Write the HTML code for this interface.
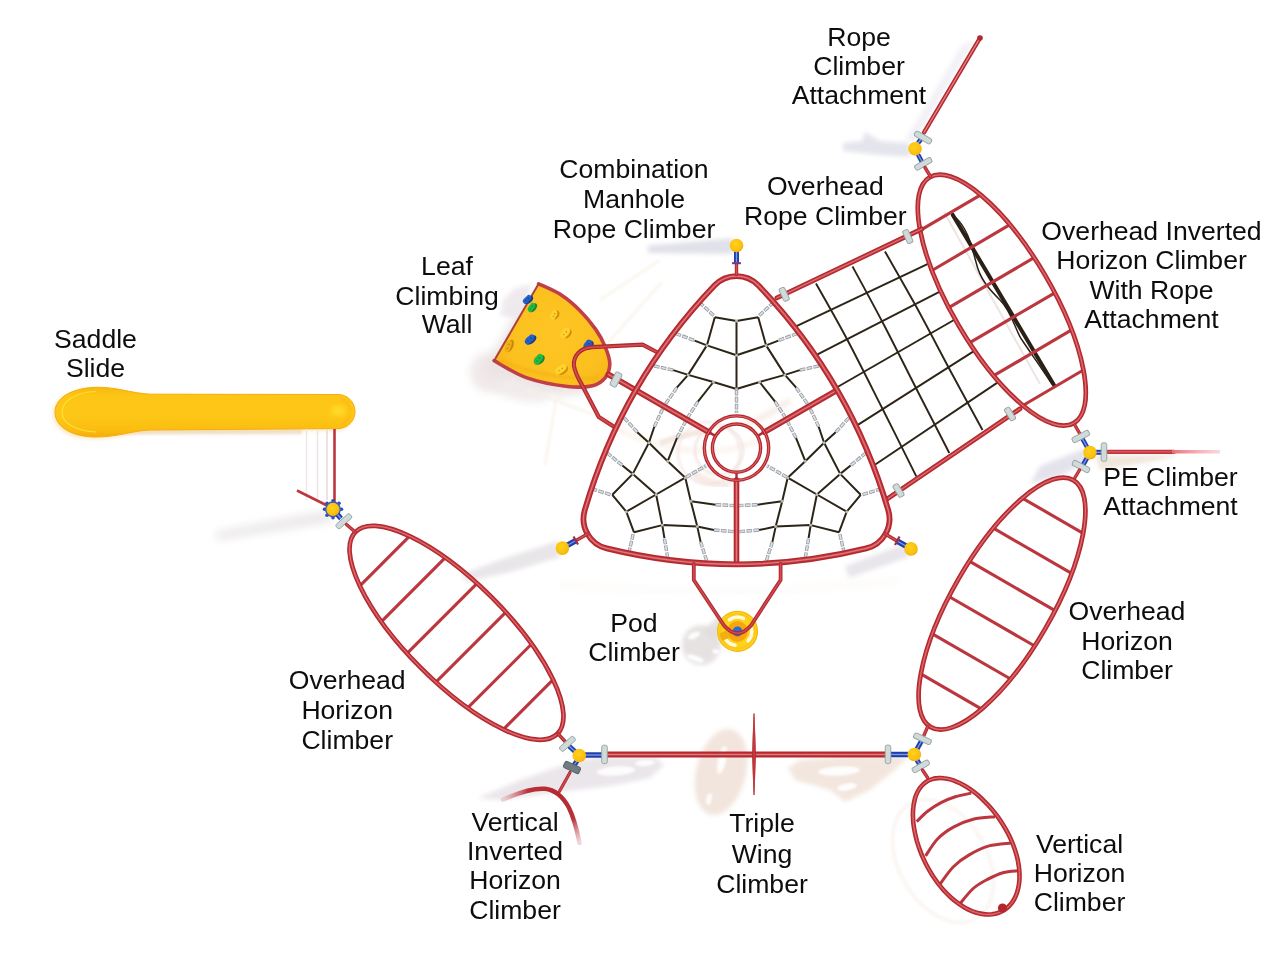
<!DOCTYPE html>
<html><head><meta charset="utf-8"><title>Playground</title>
<style>html,body{margin:0;padding:0;background:#fff}svg{display:block}text{font-family:"Liberation Sans",sans-serif;fill:#0d0d0d}</style>
</head><body>
<svg width="1279" height="960" viewBox="0 0 1279 960">
<defs>
<radialGradient id="gball" cx="0.42" cy="0.4" r="0.65"><stop offset="0" stop-color="#ffd21a"/><stop offset="0.7" stop-color="#fcc010"/><stop offset="1" stop-color="#f0a80c"/></radialGradient>
<linearGradient id="gslide" x1="0" y1="0" x2="0" y2="1"><stop offset="0" stop-color="#f8b70e"/><stop offset="0.16" stop-color="#fdc515"/><stop offset="0.55" stop-color="#fec818"/><stop offset="0.86" stop-color="#fbbd10"/><stop offset="1" stop-color="#f5ab0c"/></linearGradient>
<linearGradient id="gpe" gradientUnits="userSpaceOnUse" x1="1172" y1="0" x2="1222" y2="0"><stop offset="0" stop-color="#e87078"/><stop offset="1" stop-color="#f7c4c8" stop-opacity="0.6"/></linearGradient>
<radialGradient id="garc" gradientUnits="userSpaceOnUse" cx="556" cy="796" r="52"><stop offset="0" stop-color="#b3282e"/><stop offset="0.55" stop-color="#b8323a"/><stop offset="1" stop-color="#d98a90" stop-opacity="0.35"/></radialGradient>
<radialGradient id="gleaf" gradientUnits="userSpaceOnUse" cx="555" cy="335" r="70"><stop offset="0" stop-color="#fdc524"/><stop offset="0.7" stop-color="#fbc01e"/><stop offset="1" stop-color="#f6b318"/></radialGradient>
<filter id="b2" x="-20%" y="-20%" width="140%" height="140%"><feGaussianBlur stdDeviation="2"/></filter>
<filter id="b4" x="-30%" y="-30%" width="160%" height="160%"><feGaussianBlur stdDeviation="4"/></filter>
<filter id="b1" x="-20%" y="-20%" width="140%" height="140%"><feGaussianBlur stdDeviation="1"/></filter>
</defs>
<rect width="1279" height="960" fill="#ffffff"/>

<g id="shadows">
<path d="M330 510 L215 532 L218 540 L332 522Z" fill="#e3dfe2" opacity="0.7" filter="url(#b4)" />
<path d="M910 143 L880 141 L865 132 L862 141 L843 143 L843 151 L880 155 L910 157Z" fill="#e0e0ea" opacity="0.85" filter="url(#b2)" />
<path d="M905 140 L962 45 L975 40 L915 142Z" fill="#efeef4" opacity="0.8" filter="url(#b2)" />
<path d="M733 238 L648 245.5 L648 253 L733 254Z" fill="#dcdce6" opacity="0.85" filter="url(#b2)" />
<path d="M558 541 L500 560 L462 574 L466 582 L510 572 L560 557Z" fill="#e3e0e3" opacity="0.8" filter="url(#b2)" />
<path d="M906 543 L845 566 L849 578 L909 557Z" fill="#e3e0e6" opacity="0.8" filter="url(#b2)" />
<path d="M1086 448 L1040 466 L1030 484 L1060 476 L1088 462Z" fill="#e0dfea" opacity="0.85" filter="url(#b2)" />
<path d="M1095 455 L1180 455 L1150 462 L1100 470Z" fill="#ecdfd0" opacity="0.75" filter="url(#b2)" />
<path d="M538.6 283.8 C575 300 600 330 609 362 C610 380 595 388 567 386.5 C540 383 515 372 494 360.7Z" fill="#e9e1e1" opacity="0.85" filter="url(#b4)" transform="translate(-11 9)"/>
<path d="M532 284 L515 288 L503 300 L500 316 L518 318Z" fill="#ebe5ea" opacity="0.8" filter="url(#b2)" />
<ellipse cx="490" cy="372" rx="20" ry="20" fill="#ece4e4" opacity="0.8" filter="url(#b4)"/>
<ellipse cx="520" cy="392" rx="30" ry="8" fill="#eee7e7" opacity="0.8" filter="url(#b4)" transform="rotate(12 520 392)"/>
<ellipse cx="701.5" cy="645" rx="19.5" ry="20" fill="#e1dbdb" opacity="0.8" filter="url(#b2)"/>
<path d="M704 630 L718 616 L727 626 L714 641Z" fill="#e1dbdb" opacity="0.8" filter="url(#b2)" />

<ellipse cx="694" cy="635.5" rx="6.5" ry="3" fill="#fff" opacity="0.95" filter="url(#b1)" transform="rotate(-25 694 635.5)"/>
<ellipse cx="695.5" cy="658.5" rx="9" ry="2.8" fill="#fff" opacity="0.95" filter="url(#b1)" transform="rotate(20 695.5 658.5)"/>
<ellipse cx="716" cy="651.5" rx="3.5" ry="2.2" fill="#fff" opacity="0.95" filter="url(#b1)" transform="rotate(10 716 651.5)"/>
<ellipse cx="721" cy="772" rx="25" ry="44" fill="#efdfd5" opacity="0.8" filter="url(#b2)" transform="rotate(14 721 772)"/>
<ellipse cx="722" cy="760" rx="4" ry="14" fill="#fff" opacity="0.92" filter="url(#b1)" transform="rotate(12 722 760)"/>
<ellipse cx="709" cy="799" rx="2.5" ry="6" fill="#fff" opacity="0.92" filter="url(#b1)" transform="rotate(12 709 799)"/>
<path d="M578 760 L520 780 L478 798 L500 800 L560 792 L610 786 L650 778 L664 765 L655 757 L600 757Z" fill="#e6e0e6" opacity="0.8" filter="url(#b2)" />
<ellipse cx="616" cy="771" rx="19" ry="4.5" fill="#fff" opacity="0.92" filter="url(#b1)" transform="rotate(-4 616 771)"/>
<ellipse cx="645" cy="763" rx="10" ry="3" fill="#fff" opacity="0.92" filter="url(#b1)" transform="rotate(-4 645 763)"/>
<path d="M788 768 L800 760 L850 756 L908 757 L895 770 L870 790 L845 802 L830 790 L795 780Z" fill="#f0e1d6" opacity="0.8" filter="url(#b2)" />
<ellipse cx="839" cy="771" rx="21" ry="4.5" fill="#fff" opacity="0.92" filter="url(#b1)" transform="rotate(-3 839 771)"/>
<ellipse cx="847" cy="787" rx="10" ry="3.5" fill="#fff" opacity="0.92" filter="url(#b1)" transform="rotate(-10 847 787)"/>
<ellipse cx="943" cy="861" rx="44" ry="66" fill="none" stroke="#f7f0eb" stroke-width="3.5" opacity="0.65" filter="url(#b1)" transform="rotate(-30 943 861)"/>
<path d="M600 420 Q690 470 760 440" fill="none" stroke="#f8efe6" stroke-width="5" opacity="0.7" filter="url(#b2)"/>
<path d="M560 585 Q740 600 900 580" fill="none" stroke="#f9f4f0" stroke-width="5" opacity="0.5" filter="url(#b4)"/>
<circle cx="719" cy="450.5" r="24" fill="none" stroke="#f0dedc" stroke-width="2.6" opacity="0.7" filter="url(#b1)"/>
<circle cx="709" cy="453" r="31" fill="none" stroke="#f3e4e2" stroke-width="2.6" opacity="0.7" filter="url(#b1)"/>
<path d="M660 443 Q690 433 706 431" fill="none" stroke="#f3e3da" stroke-width="6" opacity="0.8" filter="url(#b1)"/>
<path d="M692 472 Q708 486 730 484" fill="none" stroke="#f3e3da" stroke-width="8" opacity="0.75" filter="url(#b2)"/>
<path d="M745 425 Q770 415 790 400" fill="none" stroke="#f5e8e0" stroke-width="6" opacity="0.75" filter="url(#b2)"/>
<path d="M555 402 L662 282" fill="none" stroke="#f8f0e4" stroke-width="3" opacity="0.6" filter="url(#b1)"/>
<path d="M527 390 L617 423" fill="none" stroke="#f8f0e4" stroke-width="3" opacity="0.6" filter="url(#b1)"/>
<path d="M556 400 L545 465" fill="none" stroke="#f8f0e4" stroke-width="3" opacity="0.6" filter="url(#b1)"/>
<path d="M600 300 L660 260" fill="none" stroke="#f8f0e4" stroke-width="3" opacity="0.6" filter="url(#b1)"/>
</g>
<g id="slide">
<rect x="120" y="428" width="182" height="6.5" fill="#efe2d3" opacity="0.9" filter="url(#b1)"/>
<path d="M150 394.2 C130 393 118 387.3 98 387.3 C72 387.3 55 398 55 412 C55 427 72 437 96 437 C118 437 130 431 150 430 L338 428.6 A17 17 0 0 0 338 394.5 Z" fill="#f8d48a" opacity="0.55" filter="url(#b2)" transform="translate(-2 2)"/>
<path d="M150 394.2 C130 393 118 387.3 98 387.3 C72 387.3 55 398 55 412 C55 427 72 437 96 437 C118 437 130 431 150 430 L338 428.6 A17 17 0 0 0 338 394.5 Z" fill="url(#gslide)" stroke="#f6ad10" stroke-width="1"/>
<path d="M96 391.5 C74 392 62 402 62 412.5 C62 424 78 431 96 432" fill="none" stroke="#ffe23a" stroke-width="1.2" opacity="0.9"/>
<path d="M341 399 A13 13 0 0 1 341 424" fill="none" stroke="#f8b310" stroke-width="2" opacity="0.6" filter="url(#b1)"/>
<ellipse cx="338" cy="411" rx="7" ry="5" fill="#ffe12e" opacity="0.75" filter="url(#b2)"/>
</g>
<path d="M306.5 429 V500" stroke="#f0e6e8" stroke-width="1.5"/>
<path d="M317.5 429 V500" stroke="#efe3e6" stroke-width="1.5"/>
<path d="M327 429 V500" stroke="#ecd6da" stroke-width="1.5"/>
<path d="M334.5 429 V503" fill="none" stroke="#bb363e" stroke-width="2.6" stroke-linecap="butt" />
<path d="M297 490.5 L327 505.5" fill="none" stroke="#bb363e" stroke-width="2.6" stroke-linecap="butt" />
<g id="leaf">
<path d="M538.6 283.8C542.4 285.7 554.4 290.5 561.3 295C568.2 299.5 574.4 305 580.1 310.7C585.8 316.4 591.5 323.4 595.7 329.4C599.9 335.4 602.8 340.9 605.1 346.6C607.5 352.3 609.8 358.6 609.8 363.8C609.8 369 608 374.2 605.1 377.9C602.2 381.5 598.9 384.3 592.6 385.7C586.4 387.1 578.6 387.8 567.6 386.5C556.6 385.2 539.1 382.2 526.9 377.9C514.6 373.6 499.6 363.6 494.1 360.7 L538.6 283.8Z" fill="url(#gleaf)" stroke="none"/>
<path d="M538.6 283.8C542.4 285.7 554.4 290.5 561.3 295C568.2 299.5 574.4 305 580.1 310.7C585.8 316.4 591.5 323.4 595.7 329.4C599.9 335.4 602.8 340.9 605.1 346.6C607.5 352.3 609.8 358.6 609.8 363.8C609.8 369 608 374.2 605.1 377.9C602.2 381.5 598.9 384.3 592.6 385.7C586.4 387.1 578.6 387.8 567.6 386.5C556.6 385.2 539.1 382.2 526.9 377.9C514.6 373.6 499.6 363.6 494.1 360.7" fill="none" stroke="#c13f47" stroke-width="3.6" stroke-linejoin="round" stroke-linecap="round"/>
<path d="M494.1 360.7 L538.6 283.8" fill="none" stroke="#b0403c" stroke-width="2" stroke-linecap="round"/>
<path d="M500 360 Q545 380 598 378" fill="none" stroke="#f3ad14" stroke-width="3" opacity="0.55" filter="url(#b1)"/>
<g transform="translate(526.9 299.4) rotate(-40)">
<ellipse cx="1" cy="1.5" rx="5.4" ry="3.1" fill="#15408f"/>
<ellipse cx="0" cy="0" rx="4.8" ry="2.6" fill="#2461c8"/>
<circle cx="2.9" cy="-0.6" r="2.2" fill="#2461c8"/>
<circle cx="-2.6" cy="0.8" r="2.1" fill="#2461c8"/>
<circle cx="1.7" cy="0" r="0.8" fill="#15408f"/>
<circle cx="-1.7" cy="0.3" r="0.7" fill="#15408f"/>
</g>
<g transform="translate(531.3 307.5) rotate(-50)">
<ellipse cx="1" cy="1.5" rx="5.2" ry="3.1" fill="#168a30"/>
<ellipse cx="0" cy="0" rx="4.6" ry="2.6" fill="#27b846"/>
<circle cx="2.8" cy="-0.6" r="2.2" fill="#27b846"/>
<circle cx="-2.5" cy="0.8" r="2.1" fill="#27b846"/>
<circle cx="1.6" cy="0" r="0.8" fill="#168a30"/>
<circle cx="-1.6" cy="0.3" r="0.7" fill="#168a30"/>
</g>
<g transform="translate(553.8 315) rotate(-55)">
<ellipse cx="1" cy="1.5" rx="5" ry="3.3" fill="#d48f0a"/>
<ellipse cx="0" cy="0" rx="4.4" ry="2.8" fill="#ffd32e"/>
<circle cx="2.6" cy="-0.6" r="2.4" fill="#ffd32e"/>
<circle cx="-2.4" cy="0.8" r="2.2" fill="#ffd32e"/>
<circle cx="1.5" cy="0" r="0.8" fill="#d48f0a"/>
<circle cx="-1.5" cy="0.3" r="0.7" fill="#d48f0a"/>
</g>
<g transform="translate(565 333.1) rotate(-40)">
<ellipse cx="1" cy="1.5" rx="5.6" ry="4.1" fill="#d48f0a"/>
<ellipse cx="0" cy="0" rx="5" ry="3.6" fill="#ffd32e"/>
<circle cx="3" cy="-0.6" r="3.1" fill="#ffd32e"/>
<circle cx="-2.8" cy="0.8" r="2.9" fill="#ffd32e"/>
<circle cx="1.8" cy="0" r="0.8" fill="#d48f0a"/>
<circle cx="-1.8" cy="0.3" r="0.7" fill="#d48f0a"/>
</g>
<g transform="translate(529.4 339.4) rotate(-38)">
<ellipse cx="1" cy="1.5" rx="6.2" ry="3.5" fill="#15408f"/>
<ellipse cx="0" cy="0" rx="5.6" ry="3" fill="#2461c8"/>
<circle cx="3.4" cy="-0.6" r="2.5" fill="#2461c8"/>
<circle cx="-3.1" cy="0.8" r="2.4" fill="#2461c8"/>
<circle cx="2" cy="0" r="0.8" fill="#15408f"/>
<circle cx="-2" cy="0.3" r="0.7" fill="#15408f"/>
</g>
<g transform="translate(508.1 346.3) rotate(-65)">
<ellipse cx="1" cy="1.5" rx="6.6" ry="3.3" fill="#c98a0a"/>
<ellipse cx="0" cy="0" rx="6" ry="2.8" fill="#eeb016"/>
<circle cx="3.6" cy="-0.6" r="2.4" fill="#eeb016"/>
<circle cx="-3.3" cy="0.8" r="2.2" fill="#eeb016"/>
<circle cx="2.1" cy="0" r="0.8" fill="#c98a0a"/>
<circle cx="-2.1" cy="0.3" r="0.7" fill="#c98a0a"/>
</g>
<g transform="translate(587.5 345) rotate(-50)">
<ellipse cx="1" cy="1.5" rx="5.2" ry="3.9" fill="#15408f"/>
<ellipse cx="0" cy="0" rx="4.6" ry="3.4" fill="#2461c8"/>
<circle cx="2.8" cy="-0.6" r="2.9" fill="#2461c8"/>
<circle cx="-2.5" cy="0.8" r="2.7" fill="#2461c8"/>
<circle cx="1.6" cy="0" r="0.8" fill="#15408f"/>
<circle cx="-1.6" cy="0.3" r="0.7" fill="#15408f"/>
</g>
<g transform="translate(538.1 359.4) rotate(-45)">
<ellipse cx="1" cy="1.5" rx="5.8" ry="3.9" fill="#168a30"/>
<ellipse cx="0" cy="0" rx="5.2" ry="3.4" fill="#27b846"/>
<circle cx="3.1" cy="-0.6" r="2.9" fill="#27b846"/>
<circle cx="-2.9" cy="0.8" r="2.7" fill="#27b846"/>
<circle cx="1.8" cy="0" r="0.8" fill="#168a30"/>
<circle cx="-1.8" cy="0.3" r="0.7" fill="#168a30"/>
</g>
<g transform="translate(560.6 369.4) rotate(-30)">
<ellipse cx="1" cy="1.5" rx="6.4" ry="4.1" fill="#d48f0a"/>
<ellipse cx="0" cy="0" rx="5.8" ry="3.6" fill="#ffd32e"/>
<circle cx="3.5" cy="-0.6" r="3.1" fill="#ffd32e"/>
<circle cx="-3.2" cy="0.8" r="2.9" fill="#ffd32e"/>
<circle cx="2" cy="0" r="0.8" fill="#d48f0a"/>
<circle cx="-2" cy="0.3" r="0.7" fill="#d48f0a"/>
</g>
</g>
<g id="nets">
<path d="M793.9 327.4 L930.6 262.6" stroke="#2c2416" stroke-width="1.9" fill="none"/>
<path d="M816.1 355.2 L940.3 291.4" stroke="#2c2416" stroke-width="1.9" fill="none"/>
<path d="M836.2 387.8 L955.7 319" stroke="#2c2416" stroke-width="1.9" fill="none"/>
<path d="M856.3 425.9 L974.7 350.6" stroke="#2c2416" stroke-width="1.9" fill="none"/>
<path d="M873.8 465.5 L998.9 381.6" stroke="#2c2416" stroke-width="1.9" fill="none"/>
<path d="M816 283.5C821.1 292.7 835.7 317.9 846.8 338.8C857.9 359.7 870.9 385.9 882.5 408.8C894.1 431.7 910.7 465.1 916.3 476.3" stroke="#2c2416" stroke-width="1.9" fill="none"/>
<path d="M852.5 266.5C857.8 276.2 873.1 304.1 884 325C894.9 345.9 907.1 370.7 918 392C928.9 413.3 944.1 442.8 949.3 453" stroke="#2c2416" stroke-width="1.9" fill="none"/>
<path d="M885 251.5C890.3 260.9 906 287.9 917 308C928 328.1 940.1 351.7 951 372C961.9 392.3 977.2 420.3 982.5 430" stroke="#2c2416" stroke-width="1.9" fill="none"/>
<path d="M944 212 L1040 384" stroke="#ece6e2" stroke-width="2" fill="none"/>
<path d="M952.8 214.9 L1054.1 385.2" stroke="#2a2015" stroke-width="4" fill="none" stroke-linecap="round"/>
<path d="M955 217 C968 228 972 248 976 262 C980 280 990 290 1000 300 C1012 312 1016 332 1022 340 C1030 352 1040 366 1052 384" stroke="#2a2015" stroke-width="1.5" fill="none"/>
<path d="M736.5 320.9 L736.5 355.2 L736.5 389" stroke="#2c2416" stroke-width="2" fill="none" stroke-linejoin="round"/>
<path d="M714.8 317.2 L706.9 345.4 L688.1 374.9 L676.8 387.6" stroke="#2c2416" stroke-width="2" fill="none" stroke-linejoin="round"/>
<path d="M758.2 317.2 L766.1 345.4 L784.9 374.9 L796.2 387.6" stroke="#2c2416" stroke-width="2" fill="none" stroke-linejoin="round"/>
<path d="M713.4 382 L697.9 401.7" stroke="#2c2416" stroke-width="2" fill="none" stroke-linejoin="round"/>
<path d="M759.6 382 L775.1 401.7" stroke="#2c2416" stroke-width="2" fill="none" stroke-linejoin="round"/>
<path d="M714.8 317.2 L736.5 320.9 L758.2 317.2" stroke="#2c2416" stroke-width="2" fill="none" stroke-linejoin="round"/>
<path d="M694.6 340.6 L706.9 345.4 L736.5 355.2 L766.1 345.4 L778.4 340.6" stroke="#2c2416" stroke-width="2" fill="none" stroke-linejoin="round"/>
<path d="M673.2 370.1 L688.1 374.9 L713.4 382 L736.5 389 L759.6 382 L784.9 374.9 L799.8 370.1" stroke="#2c2416" stroke-width="2" fill="none" stroke-linejoin="round"/>
<path d="M736.5 389.8 L736.5 412.9" stroke="#979da3" stroke-width="3.4" fill="none" stroke-dasharray="5.6 1.4"/>
<path d="M736.5 389.8 L736.5 412.9" stroke="#dde1e4" stroke-width="1.7" fill="none" stroke-dasharray="4.4 2.6" stroke-dashoffset="-0.6"/>
<path d="M676.8 387.6 L663.6 406.7" stroke="#979da3" stroke-width="3.4" fill="none" stroke-dasharray="5.6 1.4"/>
<path d="M676.8 387.6 L663.6 406.7" stroke="#dde1e4" stroke-width="1.7" fill="none" stroke-dasharray="4.4 2.6" stroke-dashoffset="-0.6"/>
<path d="M796.2 387.6 L809.4 406.7" stroke="#979da3" stroke-width="3.4" fill="none" stroke-dasharray="5.6 1.4"/>
<path d="M796.2 387.6 L809.4 406.7" stroke="#dde1e4" stroke-width="1.7" fill="none" stroke-dasharray="4.4 2.6" stroke-dashoffset="-0.6"/>
<path d="M697.9 401.7 L686.7 419.1" stroke="#979da3" stroke-width="3.4" fill="none" stroke-dasharray="5.6 1.4"/>
<path d="M697.9 401.7 L686.7 419.1" stroke="#dde1e4" stroke-width="1.7" fill="none" stroke-dasharray="4.4 2.6" stroke-dashoffset="-0.6"/>
<path d="M775.1 401.7 L786.3 419.1" stroke="#979da3" stroke-width="3.4" fill="none" stroke-dasharray="5.6 1.4"/>
<path d="M775.1 401.7 L786.3 419.1" stroke="#dde1e4" stroke-width="1.7" fill="none" stroke-dasharray="4.4 2.6" stroke-dashoffset="-0.6"/>
<path d="M699.3 302.3 L714.3 316.1" stroke="#979da3" stroke-width="3.4" fill="none" stroke-dasharray="5.6 1.4"/>
<path d="M699.3 302.3 L714.3 316.1" stroke="#dde1e4" stroke-width="1.7" fill="none" stroke-dasharray="4.4 2.6" stroke-dashoffset="-0.6"/>
<path d="M773.7 302.3 L758.7 316.1" stroke="#979da3" stroke-width="3.4" fill="none" stroke-dasharray="5.6 1.4"/>
<path d="M773.7 302.3 L758.7 316.1" stroke="#dde1e4" stroke-width="1.7" fill="none" stroke-dasharray="4.4 2.6" stroke-dashoffset="-0.6"/>
<path d="M675.7 333.5 L694.6 340.6" stroke="#979da3" stroke-width="3.4" fill="none" stroke-dasharray="5.6 1.4"/>
<path d="M675.7 333.5 L694.6 340.6" stroke="#dde1e4" stroke-width="1.7" fill="none" stroke-dasharray="4.4 2.6" stroke-dashoffset="-0.6"/>
<path d="M797.3 333.5 L778.4 340.6" stroke="#979da3" stroke-width="3.4" fill="none" stroke-dasharray="5.6 1.4"/>
<path d="M797.3 333.5 L778.4 340.6" stroke="#dde1e4" stroke-width="1.7" fill="none" stroke-dasharray="4.4 2.6" stroke-dashoffset="-0.6"/>
<path d="M654 365.9 L673.2 370.1" stroke="#979da3" stroke-width="3.4" fill="none" stroke-dasharray="5.6 1.4"/>
<path d="M654 365.9 L673.2 370.1" stroke="#dde1e4" stroke-width="1.7" fill="none" stroke-dasharray="4.4 2.6" stroke-dashoffset="-0.6"/>
<path d="M819 365.9 L799.8 370.1" stroke="#979da3" stroke-width="3.4" fill="none" stroke-dasharray="5.6 1.4"/>
<path d="M819 365.9 L799.8 370.1" stroke="#dde1e4" stroke-width="1.7" fill="none" stroke-dasharray="4.4 2.6" stroke-dashoffset="-0.6"/>
<circle cx="736.5" cy="320.9" r="1.5" fill="#b9b9b4"/>
<circle cx="736.5" cy="355.2" r="1.5" fill="#b9b9b4"/>
<circle cx="736.5" cy="389" r="1.5" fill="#b9b9b4"/>
<circle cx="706.9" cy="345.4" r="1.5" fill="#b9b9b4"/>
<circle cx="766.1" cy="345.4" r="1.5" fill="#b9b9b4"/>
<circle cx="688.1" cy="374.9" r="1.5" fill="#b9b9b4"/>
<circle cx="784.9" cy="374.9" r="1.5" fill="#b9b9b4"/>
<circle cx="713.4" cy="382" r="1.5" fill="#b9b9b4"/>
<circle cx="759.6" cy="382" r="1.5" fill="#b9b9b4"/>
<path d="M846.7 511.7 L816.9 494.5 L787.7 477.7" stroke="#2c2416" stroke-width="2" fill="none" stroke-linejoin="round"/>
<path d="M860.7 494.8 L840.2 473.9 L824.1 442.8 L818.7 426.7" stroke="#2c2416" stroke-width="2" fill="none" stroke-linejoin="round"/>
<path d="M839 532.3 L810.7 525.1 L775.7 526.6 L759.1 530" stroke="#2c2416" stroke-width="2" fill="none" stroke-linejoin="round"/>
<path d="M805.3 461.2 L796 437.9" stroke="#2c2416" stroke-width="2" fill="none" stroke-linejoin="round"/>
<path d="M782.2 501.2 L757.4 504.7" stroke="#2c2416" stroke-width="2" fill="none" stroke-linejoin="round"/>
<path d="M860.7 494.8 L846.7 511.7 L839 532.3" stroke="#2c2416" stroke-width="2" fill="none" stroke-linejoin="round"/>
<path d="M850.6 465.5 L840.2 473.9 L816.9 494.5 L810.7 525.1 L808.6 538.2" stroke="#2c2416" stroke-width="2" fill="none" stroke-linejoin="round"/>
<path d="M835.7 432.2 L824.1 442.8 L805.3 461.2 L787.7 477.7 L782.2 501.2 L775.7 526.6 L772.4 541.9" stroke="#2c2416" stroke-width="2" fill="none" stroke-linejoin="round"/>
<path d="M787 477.2 L767 465.7" stroke="#979da3" stroke-width="3.4" fill="none" stroke-dasharray="5.6 1.4"/>
<path d="M787 477.2 L767 465.7" stroke="#dde1e4" stroke-width="1.7" fill="none" stroke-dasharray="4.4 2.6" stroke-dashoffset="-0.6"/>
<path d="M818.7 426.7 L808.8 405.7" stroke="#979da3" stroke-width="3.4" fill="none" stroke-dasharray="5.6 1.4"/>
<path d="M818.7 426.7 L808.8 405.7" stroke="#dde1e4" stroke-width="1.7" fill="none" stroke-dasharray="4.4 2.6" stroke-dashoffset="-0.6"/>
<path d="M759.1 530 L735.9 531.9" stroke="#979da3" stroke-width="3.4" fill="none" stroke-dasharray="5.6 1.4"/>
<path d="M759.1 530 L735.9 531.9" stroke="#dde1e4" stroke-width="1.7" fill="none" stroke-dasharray="4.4 2.6" stroke-dashoffset="-0.6"/>
<path d="M796 437.9 L786.5 419.5" stroke="#979da3" stroke-width="3.4" fill="none" stroke-dasharray="5.6 1.4"/>
<path d="M796 437.9 L786.5 419.5" stroke="#dde1e4" stroke-width="1.7" fill="none" stroke-dasharray="4.4 2.6" stroke-dashoffset="-0.6"/>
<path d="M757.4 504.7 L736.7 505.7" stroke="#979da3" stroke-width="3.4" fill="none" stroke-dasharray="5.6 1.4"/>
<path d="M757.4 504.7 L736.7 505.7" stroke="#dde1e4" stroke-width="1.7" fill="none" stroke-dasharray="4.4 2.6" stroke-dashoffset="-0.6"/>
<path d="M881.3 488.8 L861.9 494.8" stroke="#979da3" stroke-width="3.4" fill="none" stroke-dasharray="5.6 1.4"/>
<path d="M881.3 488.8 L861.9 494.8" stroke="#dde1e4" stroke-width="1.7" fill="none" stroke-dasharray="4.4 2.6" stroke-dashoffset="-0.6"/>
<path d="M844.2 553.2 L839.7 533.4" stroke="#979da3" stroke-width="3.4" fill="none" stroke-dasharray="5.6 1.4"/>
<path d="M844.2 553.2 L839.7 533.4" stroke="#dde1e4" stroke-width="1.7" fill="none" stroke-dasharray="4.4 2.6" stroke-dashoffset="-0.6"/>
<path d="M866.1 452.7 L850.6 465.5" stroke="#979da3" stroke-width="3.4" fill="none" stroke-dasharray="5.6 1.4"/>
<path d="M866.1 452.7 L850.6 465.5" stroke="#dde1e4" stroke-width="1.7" fill="none" stroke-dasharray="4.4 2.6" stroke-dashoffset="-0.6"/>
<path d="M805.3 558 L808.6 538.2" stroke="#979da3" stroke-width="3.4" fill="none" stroke-dasharray="5.6 1.4"/>
<path d="M805.3 558 L808.6 538.2" stroke="#dde1e4" stroke-width="1.7" fill="none" stroke-dasharray="4.4 2.6" stroke-dashoffset="-0.6"/>
<path d="M848.9 417.8 L835.7 432.2" stroke="#979da3" stroke-width="3.4" fill="none" stroke-dasharray="5.6 1.4"/>
<path d="M848.9 417.8 L835.7 432.2" stroke="#dde1e4" stroke-width="1.7" fill="none" stroke-dasharray="4.4 2.6" stroke-dashoffset="-0.6"/>
<path d="M766.4 560.6 L772.4 541.9" stroke="#979da3" stroke-width="3.4" fill="none" stroke-dasharray="5.6 1.4"/>
<path d="M766.4 560.6 L772.4 541.9" stroke="#dde1e4" stroke-width="1.7" fill="none" stroke-dasharray="4.4 2.6" stroke-dashoffset="-0.6"/>
<circle cx="846.7" cy="511.7" r="1.5" fill="#b9b9b4"/>
<circle cx="816.9" cy="494.5" r="1.5" fill="#b9b9b4"/>
<circle cx="787.7" cy="477.7" r="1.5" fill="#b9b9b4"/>
<circle cx="840.2" cy="473.9" r="1.5" fill="#b9b9b4"/>
<circle cx="810.7" cy="525.1" r="1.5" fill="#b9b9b4"/>
<circle cx="824.1" cy="442.8" r="1.5" fill="#b9b9b4"/>
<circle cx="775.7" cy="526.6" r="1.5" fill="#b9b9b4"/>
<circle cx="805.3" cy="461.2" r="1.5" fill="#b9b9b4"/>
<circle cx="782.2" cy="501.2" r="1.5" fill="#b9b9b4"/>
<path d="M626.3 511.7 L656.1 494.5 L685.3 477.7" stroke="#2c2416" stroke-width="2" fill="none" stroke-linejoin="round"/>
<path d="M634 532.3 L662.3 525.1 L697.3 526.6 L713.9 530" stroke="#2c2416" stroke-width="2" fill="none" stroke-linejoin="round"/>
<path d="M612.3 494.8 L632.8 473.9 L648.9 442.8 L654.3 426.7" stroke="#2c2416" stroke-width="2" fill="none" stroke-linejoin="round"/>
<path d="M690.8 501.2 L715.6 504.7" stroke="#2c2416" stroke-width="2" fill="none" stroke-linejoin="round"/>
<path d="M667.7 461.2 L677 437.9" stroke="#2c2416" stroke-width="2" fill="none" stroke-linejoin="round"/>
<path d="M634 532.3 L626.3 511.7 L612.3 494.8" stroke="#2c2416" stroke-width="2" fill="none" stroke-linejoin="round"/>
<path d="M664.4 538.2 L662.3 525.1 L656.1 494.5 L632.8 473.9 L622.4 465.5" stroke="#2c2416" stroke-width="2" fill="none" stroke-linejoin="round"/>
<path d="M700.6 541.9 L697.3 526.6 L690.8 501.2 L685.3 477.7 L667.7 461.2 L648.9 442.8 L637.3 432.2" stroke="#2c2416" stroke-width="2" fill="none" stroke-linejoin="round"/>
<path d="M686 477.2 L706 465.7" stroke="#979da3" stroke-width="3.4" fill="none" stroke-dasharray="5.6 1.4"/>
<path d="M686 477.2 L706 465.7" stroke="#dde1e4" stroke-width="1.7" fill="none" stroke-dasharray="4.4 2.6" stroke-dashoffset="-0.6"/>
<path d="M713.9 530 L737.1 531.9" stroke="#979da3" stroke-width="3.4" fill="none" stroke-dasharray="5.6 1.4"/>
<path d="M713.9 530 L737.1 531.9" stroke="#dde1e4" stroke-width="1.7" fill="none" stroke-dasharray="4.4 2.6" stroke-dashoffset="-0.6"/>
<path d="M654.3 426.7 L664.2 405.7" stroke="#979da3" stroke-width="3.4" fill="none" stroke-dasharray="5.6 1.4"/>
<path d="M654.3 426.7 L664.2 405.7" stroke="#dde1e4" stroke-width="1.7" fill="none" stroke-dasharray="4.4 2.6" stroke-dashoffset="-0.6"/>
<path d="M715.6 504.7 L736.3 505.7" stroke="#979da3" stroke-width="3.4" fill="none" stroke-dasharray="5.6 1.4"/>
<path d="M715.6 504.7 L736.3 505.7" stroke="#dde1e4" stroke-width="1.7" fill="none" stroke-dasharray="4.4 2.6" stroke-dashoffset="-0.6"/>
<path d="M677 437.9 L686.5 419.5" stroke="#979da3" stroke-width="3.4" fill="none" stroke-dasharray="5.6 1.4"/>
<path d="M677 437.9 L686.5 419.5" stroke="#dde1e4" stroke-width="1.7" fill="none" stroke-dasharray="4.4 2.6" stroke-dashoffset="-0.6"/>
<path d="M628.8 553.2 L633.3 533.4" stroke="#979da3" stroke-width="3.4" fill="none" stroke-dasharray="5.6 1.4"/>
<path d="M628.8 553.2 L633.3 533.4" stroke="#dde1e4" stroke-width="1.7" fill="none" stroke-dasharray="4.4 2.6" stroke-dashoffset="-0.6"/>
<path d="M591.7 488.8 L611.1 494.8" stroke="#979da3" stroke-width="3.4" fill="none" stroke-dasharray="5.6 1.4"/>
<path d="M591.7 488.8 L611.1 494.8" stroke="#dde1e4" stroke-width="1.7" fill="none" stroke-dasharray="4.4 2.6" stroke-dashoffset="-0.6"/>
<path d="M667.7 558 L664.4 538.2" stroke="#979da3" stroke-width="3.4" fill="none" stroke-dasharray="5.6 1.4"/>
<path d="M667.7 558 L664.4 538.2" stroke="#dde1e4" stroke-width="1.7" fill="none" stroke-dasharray="4.4 2.6" stroke-dashoffset="-0.6"/>
<path d="M606.9 452.7 L622.4 465.5" stroke="#979da3" stroke-width="3.4" fill="none" stroke-dasharray="5.6 1.4"/>
<path d="M606.9 452.7 L622.4 465.5" stroke="#dde1e4" stroke-width="1.7" fill="none" stroke-dasharray="4.4 2.6" stroke-dashoffset="-0.6"/>
<path d="M706.6 560.6 L700.6 541.9" stroke="#979da3" stroke-width="3.4" fill="none" stroke-dasharray="5.6 1.4"/>
<path d="M706.6 560.6 L700.6 541.9" stroke="#dde1e4" stroke-width="1.7" fill="none" stroke-dasharray="4.4 2.6" stroke-dashoffset="-0.6"/>
<path d="M624.1 417.8 L637.3 432.2" stroke="#979da3" stroke-width="3.4" fill="none" stroke-dasharray="5.6 1.4"/>
<path d="M624.1 417.8 L637.3 432.2" stroke="#dde1e4" stroke-width="1.7" fill="none" stroke-dasharray="4.4 2.6" stroke-dashoffset="-0.6"/>
<circle cx="626.3" cy="511.7" r="1.5" fill="#b9b9b4"/>
<circle cx="656.1" cy="494.5" r="1.5" fill="#b9b9b4"/>
<circle cx="685.3" cy="477.7" r="1.5" fill="#b9b9b4"/>
<circle cx="662.3" cy="525.1" r="1.5" fill="#b9b9b4"/>
<circle cx="632.8" cy="473.9" r="1.5" fill="#b9b9b4"/>
<circle cx="697.3" cy="526.6" r="1.5" fill="#b9b9b4"/>
<circle cx="648.9" cy="442.8" r="1.5" fill="#b9b9b4"/>
<circle cx="690.8" cy="501.2" r="1.5" fill="#b9b9b4"/>
<circle cx="667.7" cy="461.2" r="1.5" fill="#b9b9b4"/>
</g>
<g id="frames">
<path d="M656.7 352 L642.6 344.7 L592 347.2 C580 348 573 356 574 366 C575 372 578 378 581.6 384.2 L598.8 417 L616 428" fill="none" stroke="#b3282e" stroke-width="4.2" stroke-linecap="round" stroke-linejoin="round" />
<path d="M656.7 352 L642.6 344.7 L592 347.2 C580 348 573 356 574 366 C575 372 578 378 581.6 384.2 L598.8 417 L616 428" fill="none" stroke="#c53c42" stroke-width="2.1" stroke-linecap="round" stroke-linejoin="round" />
<path d="M656.7 352 L642.6 344.7 L592 347.2 C580 348 573 356 574 366 C575 372 578 378 581.6 384.2 L598.8 417 L616 428" fill="none" stroke="#cf565b" stroke-width="0.9" stroke-linecap="round" stroke-linejoin="round" />
<path d="M409.6 536.2 L359.9 585.9" fill="none" stroke="#bb363e" stroke-width="3.1" stroke-linecap="butt" />
<path d="M445.3 557.7 L381.4 621.6" fill="none" stroke="#bb363e" stroke-width="3.1" stroke-linecap="butt" />
<path d="M477.1 583.4 L407.1 653.4" fill="none" stroke="#bb363e" stroke-width="3.1" stroke-linecap="butt" />
<path d="M505.9 612.2 L435.9 682.2" fill="none" stroke="#bb363e" stroke-width="3.1" stroke-linecap="butt" />
<path d="M531.6 644 L467.7 707.9" fill="none" stroke="#bb363e" stroke-width="3.1" stroke-linecap="butt" />
<path d="M553.1 679.7 L503.4 729.4" fill="none" stroke="#bb363e" stroke-width="3.1" stroke-linecap="butt" />
<ellipse cx="456.5" cy="632.8" rx="142.8" ry="50" fill="none" stroke="#b3282e" stroke-width="4.7" transform="rotate(45 456.5 632.8)"/>
<ellipse cx="456.5" cy="632.8" rx="142.8" ry="50" fill="none" stroke="#c53c42" stroke-width="2.3" transform="rotate(45 456.5 632.8)"/>
<ellipse cx="456.5" cy="632.8" rx="142.8" ry="50" fill="none" stroke="#dd7a7e" stroke-width="0.9" transform="rotate(45 456.5 632.8)"/>
<path d="M980.7 194.9 L920.2 230.4" fill="none" stroke="#bb363e" stroke-width="3.1" stroke-linecap="butt" />
<path d="M1009.9 224.7 L932 270.5" fill="none" stroke="#bb363e" stroke-width="3.1" stroke-linecap="butt" />
<path d="M1034.2 257.6 L948.8 307.6" fill="none" stroke="#bb363e" stroke-width="3.1" stroke-linecap="butt" />
<path d="M1054.8 292.8 L969.4 342.8" fill="none" stroke="#bb363e" stroke-width="3.1" stroke-linecap="butt" />
<path d="M1071.6 329.9 L993.7 375.7" fill="none" stroke="#bb363e" stroke-width="3.1" stroke-linecap="butt" />
<path d="M1083.4 370 L1022.9 405.5" fill="none" stroke="#bb363e" stroke-width="3.1" stroke-linecap="butt" />
<ellipse cx="1001.8" cy="300.2" rx="142.5" ry="50" fill="none" stroke="#b3282e" stroke-width="4.7" transform="rotate(59.6 1001.8 300.2)"/>
<ellipse cx="1001.8" cy="300.2" rx="142.5" ry="50" fill="none" stroke="#c53c42" stroke-width="2.3" transform="rotate(59.6 1001.8 300.2)"/>
<ellipse cx="1001.8" cy="300.2" rx="142.5" ry="50" fill="none" stroke="#dd7a7e" stroke-width="0.9" transform="rotate(59.6 1001.8 300.2)"/>
<path d="M1083.2 533.3 L1022.3 498.1" fill="none" stroke="#bb363e" stroke-width="3.1" stroke-linecap="butt" />
<path d="M1071.6 573.4 L993.4 528.2" fill="none" stroke="#bb363e" stroke-width="3.1" stroke-linecap="butt" />
<path d="M1055.1 610.7 L969.3 561.2" fill="none" stroke="#bb363e" stroke-width="3.1" stroke-linecap="butt" />
<path d="M1034.7 646 L948.9 596.5" fill="none" stroke="#bb363e" stroke-width="3.1" stroke-linecap="butt" />
<path d="M1010.6 679 L932.4 633.8" fill="none" stroke="#bb363e" stroke-width="3.1" stroke-linecap="butt" />
<path d="M981.7 709.1 L920.8 673.9" fill="none" stroke="#bb363e" stroke-width="3.1" stroke-linecap="butt" />
<ellipse cx="1002" cy="603.6" rx="142.6" ry="50" fill="none" stroke="#b3282e" stroke-width="4.7" transform="rotate(120 1002 603.6)"/>
<ellipse cx="1002" cy="603.6" rx="142.6" ry="50" fill="none" stroke="#c53c42" stroke-width="2.3" transform="rotate(120 1002 603.6)"/>
<ellipse cx="1002" cy="603.6" rx="142.6" ry="50" fill="none" stroke="#dd7a7e" stroke-width="0.9" transform="rotate(120 1002 603.6)"/>
<path d="M776.9 297.9 L921.8 229" fill="none" stroke="#b3282e" stroke-width="4.8" stroke-linecap="round" stroke-linejoin="round" />
<path d="M776.9 297.9 L921.8 229" fill="none" stroke="#c53c42" stroke-width="2.4" stroke-linecap="round" stroke-linejoin="round" />
<path d="M776.9 297.9 L921.8 229" fill="none" stroke="#dd7a7e" stroke-width="1" stroke-linecap="round" stroke-linejoin="round" />
<path d="M887.5 498.8 L1020 408.8" fill="none" stroke="#b3282e" stroke-width="4.8" stroke-linecap="round" stroke-linejoin="round" />
<path d="M887.5 498.8 L1020 408.8" fill="none" stroke="#c53c42" stroke-width="2.4" stroke-linecap="round" stroke-linejoin="round" />
<path d="M887.5 498.8 L1020 408.8" fill="none" stroke="#dd7a7e" stroke-width="1" stroke-linecap="round" stroke-linejoin="round" />
<rect x="777.2" y="291.3" width="14" height="6" rx="2" fill="#cfdad9" stroke="#93a2a3" stroke-width="0.9" transform="rotate(65 784.2 294.3)"/>
<rect x="900.8" y="233.6" width="14" height="6" rx="2" fill="#cfdad9" stroke="#93a2a3" stroke-width="0.9" transform="rotate(65 907.8 236.6)"/>
<rect x="891.5" y="487.5" width="14" height="6" rx="2" fill="#cfdad9" stroke="#93a2a3" stroke-width="0.9" transform="rotate(58 898.5 490.5)"/>
<rect x="1003" y="411" width="14" height="6" rx="2" fill="#cfdad9" stroke="#93a2a3" stroke-width="0.9" transform="rotate(58 1010 414)"/>
<path d="M736.5 480 L736.5 563" fill="none" stroke="#b3282e" stroke-width="5.6" stroke-linecap="round" stroke-linejoin="round" />
<path d="M736.5 480 L736.5 563" fill="none" stroke="#c53c42" stroke-width="2.8" stroke-linecap="round" stroke-linejoin="round" />
<path d="M736.5 480 L736.5 563" fill="none" stroke="#dd7a7e" stroke-width="1.2" stroke-linecap="round" stroke-linejoin="round" />
<path d="M708.5 432 L608.5 374.5" fill="none" stroke="#b3282e" stroke-width="5.8" stroke-linecap="round" stroke-linejoin="round" />
<path d="M708.5 432 L608.5 374.5" fill="none" stroke="#c53c42" stroke-width="2.9" stroke-linecap="round" stroke-linejoin="round" />
<path d="M708.5 432 L608.5 374.5" fill="none" stroke="#dd7a7e" stroke-width="1.2" stroke-linecap="round" stroke-linejoin="round" />
<path d="M764.5 432 L836.5 390.5" fill="none" stroke="#b3282e" stroke-width="5.8" stroke-linecap="round" stroke-linejoin="round" />
<path d="M764.5 432 L836.5 390.5" fill="none" stroke="#c53c42" stroke-width="2.9" stroke-linecap="round" stroke-linejoin="round" />
<path d="M764.5 432 L836.5 390.5" fill="none" stroke="#dd7a7e" stroke-width="1.2" stroke-linecap="round" stroke-linejoin="round" />
<path d="M758.5 285.5A546 546 0 0 1 888.3 510.4A30.4 30.4 0 0 1 866.3 548.4A546 546 0 0 1 606.7 548.4A30.4 30.4 0 0 1 584.7 510.4A546 546 0 0 1 714.5 285.5A30.4 30.4 0 0 1 758.5 285.5Z" fill="none" stroke="#b3282e" stroke-width="5.8" stroke-linecap="round" stroke-linejoin="round" />
<path d="M758.5 285.5A546 546 0 0 1 888.3 510.4A30.4 30.4 0 0 1 866.3 548.4A546 546 0 0 1 606.7 548.4A30.4 30.4 0 0 1 584.7 510.4A546 546 0 0 1 714.5 285.5A30.4 30.4 0 0 1 758.5 285.5Z" fill="none" stroke="#c53c42" stroke-width="2.9" stroke-linecap="round" stroke-linejoin="round" />
<path d="M758.5 285.5A546 546 0 0 1 888.3 510.4A30.4 30.4 0 0 1 866.3 548.4A546 546 0 0 1 606.7 548.4A30.4 30.4 0 0 1 584.7 510.4A546 546 0 0 1 714.5 285.5A30.4 30.4 0 0 1 758.5 285.5Z" fill="none" stroke="#dd7a7e" stroke-width="1.2" stroke-linecap="round" stroke-linejoin="round" />
<path d="M736.5 472.1 L736.5 481.1" stroke="#b3282e" stroke-width="2.4" fill="none"/>
<path d="M715.7 436.1 L707.9 431.6" stroke="#b3282e" stroke-width="2.4" fill="none"/>
<path d="M757.3 436.1 L765.1 431.6" stroke="#b3282e" stroke-width="2.4" fill="none"/>
<circle cx="736.5" cy="448.1" r="32.2" fill="none" stroke="#b3282e" stroke-width="3.4"/>
<circle cx="736.5" cy="448.1" r="32.2" fill="none" stroke="#e06a6e" stroke-width="1"/>
<circle cx="736.5" cy="448.1" r="24.1" fill="none" stroke="#b3282e" stroke-width="3.4"/>
<circle cx="736.5" cy="448.1" r="24.1" fill="none" stroke="#e06a6e" stroke-width="1"/>
<path d="M736.5 274.5 V263.5" fill="none" stroke="#b3282e" stroke-width="3.4" stroke-linecap="round" stroke-linejoin="round" />
<path d="M736.5 274.5 V263.5" fill="none" stroke="#c53c42" stroke-width="1.7" stroke-linecap="round" stroke-linejoin="round" />
<path d="M736.5 274.5 V263.5" fill="none" stroke="#cf565b" stroke-width="0.8" stroke-linecap="round" stroke-linejoin="round" />
<path d="M736.5 263.5 L736.5 251" stroke="#2040a8" stroke-width="5" fill="none"/>
<path d="M736.5 263.5 L736.5 251" stroke="#7f9ae8" stroke-width="1.3" fill="none"/>
<path d="M732 263.2 H741" stroke="#7a3a7a" stroke-width="2"/>
<circle cx="736.5" cy="245.5" r="6.8" fill="url(#gball)"/>
<path d="M588.5 533.5 L576 540.5" fill="none" stroke="#b3282e" stroke-width="3.6" stroke-linecap="round" stroke-linejoin="round" />
<path d="M588.5 533.5 L576 540.5" fill="none" stroke="#c53c42" stroke-width="1.8" stroke-linecap="round" stroke-linejoin="round" />
<path d="M588.5 533.5 L576 540.5" fill="none" stroke="#cf565b" stroke-width="0.8" stroke-linecap="round" stroke-linejoin="round" />
<path d="M576 540.5 L567 545.5" stroke="#2040a8" stroke-width="5.5" fill="none"/>
<path d="M576 540.5 L567 545.5" stroke="#7f9ae8" stroke-width="1.3" fill="none"/>
<path d="M573.5 536.5 L578 544.5" stroke="#9a2f45" stroke-width="2.2"/>
<circle cx="562.4" cy="548.1" r="6.8" fill="url(#gball)"/>
<path d="M884.5 533.5 L897 541" fill="none" stroke="#b3282e" stroke-width="3.6" stroke-linecap="round" stroke-linejoin="round" />
<path d="M884.5 533.5 L897 541" fill="none" stroke="#c53c42" stroke-width="1.8" stroke-linecap="round" stroke-linejoin="round" />
<path d="M884.5 533.5 L897 541" fill="none" stroke="#cf565b" stroke-width="0.8" stroke-linecap="round" stroke-linejoin="round" />
<path d="M897 541 L906 546" stroke="#2040a8" stroke-width="5.5" fill="none"/>
<path d="M897 541 L906 546" stroke="#7f9ae8" stroke-width="1.3" fill="none"/>
<path d="M899.5 536.5 L895 545" stroke="#9a2f45" stroke-width="2.2"/>
<circle cx="911" cy="548.9" r="6.8" fill="url(#gball)"/>
<rect x="608.5" y="376" width="15" height="7" rx="2" fill="#cfdad9" stroke="#93a2a3" stroke-width="0.9" transform="rotate(-62 616 379.5)"/>
<circle cx="737.5" cy="631.3" r="20" fill="#fdd21c" stroke="#f4b80e" stroke-width="1.2"/>
<circle cx="737.5" cy="631.3" r="17" fill="none" stroke="#fbc414" stroke-width="2" opacity="0.8"/>
<path d="M729.4 619.7 A14.2 14.2 0 0 1 743.5 618.4" fill="none" stroke="#fff9dc" stroke-width="3.6" stroke-linecap="round"/>
<path d="M751.4 628.3 A14.2 14.2 0 0 1 748.1 640.8" fill="none" stroke="#fff9dc" stroke-width="3.6" stroke-linecap="round"/>
<path d="M735 645.3 A14.2 14.2 0 0 1 723.8 635" fill="none" stroke="#fff9dc" stroke-width="3.6" stroke-linecap="round"/>
<circle cx="737.5" cy="631.5" r="10.4" fill="#f7a70d"/>
<circle cx="737.5" cy="631.5" r="5" fill="#2c6bd0"/>
<path d="M719 634 L727 630 L729 638 L722 641Z" fill="#f2b010"/>
<path d="M693.8 564 V580 L724 625.5 Q737.5 641 751 625.5 L780.6 580 V564" fill="none" stroke="#b3282e" stroke-width="3.8" stroke-linecap="round" stroke-linejoin="round" />
<path d="M693.8 564 V580 L724 625.5 Q737.5 641 751 625.5 L780.6 580 V564" fill="none" stroke="#c53c42" stroke-width="1.9" stroke-linecap="round" stroke-linejoin="round" />
<path d="M693.8 564 V580 L724 625.5 Q737.5 641 751 625.5 L780.6 580 V564" fill="none" stroke="#cf565b" stroke-width="0.8" stroke-linecap="round" stroke-linejoin="round" />
<path d="M916.7 821.6C918.5 819.9 923.5 814.5 927.6 811.3C931.7 808.1 936.9 804.8 941.5 802.4C946.1 800 950.4 798.4 955.3 796.8C960.3 795.3 968.5 793.7 971.2 793.1" fill="none" stroke="#bb363e" stroke-width="3" stroke-linecap="butt" />
<path d="M925.6 855.8C927.6 853 932.9 843.8 937.5 839C942.1 834.2 947.4 830.4 953.4 827.1C959.3 823.8 966.2 820.9 973.2 819.2C980.1 817.5 991.3 817.2 995 816.8" fill="none" stroke="#bb363e" stroke-width="3" stroke-linecap="butt" />
<path d="M939.9 884.2C942.1 881.3 948.5 871.6 953.4 866.7C958.3 861.8 963.3 858.3 969.2 854.9C975.1 851.4 982.1 847.9 989 845.9C995.9 844 1007.2 843.5 1010.8 843" fill="none" stroke="#bb363e" stroke-width="3" stroke-linecap="butt" />
<path d="M959.7 904C961.9 901.4 968.6 892.6 973.2 888.5C977.7 884.5 982.1 882.2 987 879.6C992 877 997.7 874.2 1002.9 872.7C1008.1 871.2 1015.7 871 1018.3 870.7" fill="none" stroke="#bb363e" stroke-width="3" stroke-linecap="butt" />
<path d="M1003.4 910.5C1001.7 911.5 999.8 912.4 997.9 913C996 913.6 994 914 991.9 914.3C989.9 914.5 987.7 914.6 985.5 914.4C983.3 914.2 981.1 913.9 978.8 913.3C976.5 912.8 974.2 912 971.9 911.1C969.6 910.1 967.2 909 964.9 907.7C962.6 906.4 960.3 904.9 958 903.2C955.7 901.5 953.4 899.7 951.2 897.7C949 895.7 946.8 893.6 944.7 891.3C942.6 889.1 940.6 886.6 938.6 884.1C936.7 881.6 934.8 879 933 876.3C931.3 873.6 929.6 870.7 928 867.9C926.4 865 924.9 862.1 923.6 859.1C922.2 856.2 921 853.1 919.9 850.1C918.8 847.1 917.8 844.1 916.9 841.1C916.1 838.1 915.3 835.1 914.8 832.1C914.2 829.2 913.7 826.3 913.4 823.5C913.1 820.6 913 817.9 912.9 815.2C912.9 812.5 913 809.9 913.3 807.5C913.5 805 914 802.7 914.5 800.4C915 798.2 915.7 796.1 916.5 794.2C917.3 792.3 918.3 790.5 919.3 788.9C920.4 787.3 921.6 785.8 922.9 784.6C924.2 783.3 925.7 782.2 927.2 781.3C928.8 780.4 930.4 779.6 932.2 779.1C933.9 778.6 935.8 778.2 937.7 778.1C939.6 777.9 941.7 777.9 943.8 778.2C945.8 778.4 948 778.8 950.2 779.4C952.4 780 954.6 780.8 956.9 781.8C959.2 782.7 961.5 783.9 963.8 785.2C966.2 786.5 968.5 788 970.8 789.7C973.1 791.3 975.5 793.1 977.8 795C980.1 797 982.3 799.1 984.5 801.3C986.8 803.5 988.9 805.8 991 808.2C993.1 810.6 995.1 813.2 997.1 815.8C999 818.4 1000.9 821.2 1002.6 823.9C1004.3 826.7 1006 829.5 1007.5 832.4C1009 835.3 1010.4 838.2 1011.7 841.1C1012.9 844 1014 847 1015 849.9C1016 852.9 1016.8 855.8 1017.5 858.7C1018.1 861.6 1018.6 864.5 1019 867.3C1019.3 870.1 1019.5 872.8 1019.5 875.5C1019.6 878.2 1019.4 880.8 1019.1 883.3C1018.8 885.7 1018.3 888.1 1017.7 890.4C1017.1 892.7 1016.3 894.8 1015.4 896.8C1014.5 898.8 1013.4 900.7 1012.2 902.4C1011 904 1009.6 905.6 1008.2 907C1006.7 908.3 1005.1 909.5 1003.4 910.5Z" fill="none" stroke="#b3282e" stroke-width="4.6" stroke-linecap="round" stroke-linejoin="round" />
<path d="M1003.4 910.5C1001.7 911.5 999.8 912.4 997.9 913C996 913.6 994 914 991.9 914.3C989.9 914.5 987.7 914.6 985.5 914.4C983.3 914.2 981.1 913.9 978.8 913.3C976.5 912.8 974.2 912 971.9 911.1C969.6 910.1 967.2 909 964.9 907.7C962.6 906.4 960.3 904.9 958 903.2C955.7 901.5 953.4 899.7 951.2 897.7C949 895.7 946.8 893.6 944.7 891.3C942.6 889.1 940.6 886.6 938.6 884.1C936.7 881.6 934.8 879 933 876.3C931.3 873.6 929.6 870.7 928 867.9C926.4 865 924.9 862.1 923.6 859.1C922.2 856.2 921 853.1 919.9 850.1C918.8 847.1 917.8 844.1 916.9 841.1C916.1 838.1 915.3 835.1 914.8 832.1C914.2 829.2 913.7 826.3 913.4 823.5C913.1 820.6 913 817.9 912.9 815.2C912.9 812.5 913 809.9 913.3 807.5C913.5 805 914 802.7 914.5 800.4C915 798.2 915.7 796.1 916.5 794.2C917.3 792.3 918.3 790.5 919.3 788.9C920.4 787.3 921.6 785.8 922.9 784.6C924.2 783.3 925.7 782.2 927.2 781.3C928.8 780.4 930.4 779.6 932.2 779.1C933.9 778.6 935.8 778.2 937.7 778.1C939.6 777.9 941.7 777.9 943.8 778.2C945.8 778.4 948 778.8 950.2 779.4C952.4 780 954.6 780.8 956.9 781.8C959.2 782.7 961.5 783.9 963.8 785.2C966.2 786.5 968.5 788 970.8 789.7C973.1 791.3 975.5 793.1 977.8 795C980.1 797 982.3 799.1 984.5 801.3C986.8 803.5 988.9 805.8 991 808.2C993.1 810.6 995.1 813.2 997.1 815.8C999 818.4 1000.9 821.2 1002.6 823.9C1004.3 826.7 1006 829.5 1007.5 832.4C1009 835.3 1010.4 838.2 1011.7 841.1C1012.9 844 1014 847 1015 849.9C1016 852.9 1016.8 855.8 1017.5 858.7C1018.1 861.6 1018.6 864.5 1019 867.3C1019.3 870.1 1019.5 872.8 1019.5 875.5C1019.6 878.2 1019.4 880.8 1019.1 883.3C1018.8 885.7 1018.3 888.1 1017.7 890.4C1017.1 892.7 1016.3 894.8 1015.4 896.8C1014.5 898.8 1013.4 900.7 1012.2 902.4C1011 904 1009.6 905.6 1008.2 907C1006.7 908.3 1005.1 909.5 1003.4 910.5Z" fill="none" stroke="#c53c42" stroke-width="2.3" stroke-linecap="round" stroke-linejoin="round" />
<path d="M1003.4 910.5C1001.7 911.5 999.8 912.4 997.9 913C996 913.6 994 914 991.9 914.3C989.9 914.5 987.7 914.6 985.5 914.4C983.3 914.2 981.1 913.9 978.8 913.3C976.5 912.8 974.2 912 971.9 911.1C969.6 910.1 967.2 909 964.9 907.7C962.6 906.4 960.3 904.9 958 903.2C955.7 901.5 953.4 899.7 951.2 897.7C949 895.7 946.8 893.6 944.7 891.3C942.6 889.1 940.6 886.6 938.6 884.1C936.7 881.6 934.8 879 933 876.3C931.3 873.6 929.6 870.7 928 867.9C926.4 865 924.9 862.1 923.6 859.1C922.2 856.2 921 853.1 919.9 850.1C918.8 847.1 917.8 844.1 916.9 841.1C916.1 838.1 915.3 835.1 914.8 832.1C914.2 829.2 913.7 826.3 913.4 823.5C913.1 820.6 913 817.9 912.9 815.2C912.9 812.5 913 809.9 913.3 807.5C913.5 805 914 802.7 914.5 800.4C915 798.2 915.7 796.1 916.5 794.2C917.3 792.3 918.3 790.5 919.3 788.9C920.4 787.3 921.6 785.8 922.9 784.6C924.2 783.3 925.7 782.2 927.2 781.3C928.8 780.4 930.4 779.6 932.2 779.1C933.9 778.6 935.8 778.2 937.7 778.1C939.6 777.9 941.7 777.9 943.8 778.2C945.8 778.4 948 778.8 950.2 779.4C952.4 780 954.6 780.8 956.9 781.8C959.2 782.7 961.5 783.9 963.8 785.2C966.2 786.5 968.5 788 970.8 789.7C973.1 791.3 975.5 793.1 977.8 795C980.1 797 982.3 799.1 984.5 801.3C986.8 803.5 988.9 805.8 991 808.2C993.1 810.6 995.1 813.2 997.1 815.8C999 818.4 1000.9 821.2 1002.6 823.9C1004.3 826.7 1006 829.5 1007.5 832.4C1009 835.3 1010.4 838.2 1011.7 841.1C1012.9 844 1014 847 1015 849.9C1016 852.9 1016.8 855.8 1017.5 858.7C1018.1 861.6 1018.6 864.5 1019 867.3C1019.3 870.1 1019.5 872.8 1019.5 875.5C1019.6 878.2 1019.4 880.8 1019.1 883.3C1018.8 885.7 1018.3 888.1 1017.7 890.4C1017.1 892.7 1016.3 894.8 1015.4 896.8C1014.5 898.8 1013.4 900.7 1012.2 902.4C1011 904 1009.6 905.6 1008.2 907C1006.7 908.3 1005.1 909.5 1003.4 910.5Z" fill="none" stroke="#dd7a7e" stroke-width="0.9" stroke-linecap="round" stroke-linejoin="round" />
<circle cx="1002.5" cy="908" r="4.6" fill="#b3282e"/>
<path d="M607 754.5 H886" fill="none" stroke="#b3282e" stroke-width="6.2" stroke-linecap="round" stroke-linejoin="round" />
<path d="M607 754.5 H886" fill="none" stroke="#c53c42" stroke-width="3.1" stroke-linecap="round" stroke-linejoin="round" />
<path d="M607 754.5 H886" fill="none" stroke="#dd7a7e" stroke-width="1.2" stroke-linecap="round" stroke-linejoin="round" />
<path d="M754 713.5 Q757 754 754 795 Q751 754 754 713.5Z" fill="#b3282e" stroke="#b3282e" stroke-width="0.8"/>
<path d="M754 720 V785" stroke="#cf474b" stroke-width="1" fill="none"/>
<path d="M503 799.5 C520 792 535 788 545 788.8 C556 790 563 797 568.8 807.5 C574 818 577 830 579.5 843" fill="none" stroke="url(#garc)" stroke-width="4.4" stroke-linecap="round"/>
<path d="M570 772.5 L559.5 791.3" fill="none" stroke="#b3282e" stroke-width="3.2" stroke-linecap="round" stroke-linejoin="round" />
<path d="M570 772.5 L559.5 791.3" fill="none" stroke="#c53c42" stroke-width="1.6" stroke-linecap="round" stroke-linejoin="round" />
<path d="M570 772.5 L559.5 791.3" fill="none" stroke="#cf565b" stroke-width="0.8" stroke-linecap="round" stroke-linejoin="round" />
<path d="M924 132.5 L980 38" fill="none" stroke="#b3282e" stroke-width="4.4" stroke-linecap="round" stroke-linejoin="round" />
<path d="M924 132.5 L980 38" fill="none" stroke="#c53c42" stroke-width="2.2" stroke-linecap="round" stroke-linejoin="round" />
<path d="M924 132.5 L980 38" fill="none" stroke="#e9a0a2" stroke-width="0.9" stroke-linecap="round" stroke-linejoin="round" />
<circle cx="980" cy="38" r="2.8" fill="#b3282e"/>
<path d="M1108 451.8 H1174" fill="none" stroke="#bf343c" stroke-width="4.2" stroke-linecap="round" stroke-linejoin="round" />
<path d="M1108 451.8 H1174" fill="none" stroke="#c53c42" stroke-width="2.1" stroke-linecap="round" stroke-linejoin="round" />
<path d="M1108 451.8 H1174" fill="none" stroke="#e0686e" stroke-width="0.8" stroke-linecap="round" stroke-linejoin="round" />
<path d="M1172 451.8 H1220" stroke="url(#gpe)" stroke-width="3.6" fill="none"/>
<circle cx="341.5" cy="509.3" r="1.8" fill="#2a4fb4"/>
<circle cx="339" cy="515.3" r="1.8" fill="#2a4fb4"/>
<circle cx="333" cy="517.8" r="1.8" fill="#2a4fb4"/>
<circle cx="327" cy="515.3" r="1.8" fill="#2a4fb4"/>
<circle cx="324.5" cy="509.3" r="1.8" fill="#2a4fb4"/>
<circle cx="327" cy="503.3" r="1.8" fill="#2a4fb4"/>
<circle cx="333" cy="500.8" r="1.8" fill="#2a4fb4"/>
<circle cx="339" cy="503.3" r="1.8" fill="#2a4fb4"/>
<circle cx="333" cy="509.3" r="8" fill="#3a5cc0"/>
<circle cx="333" cy="509.3" r="6.6" fill="url(#gball)"/>
<path d="M337.5 514.5 L341 518.5" stroke="#2040a8" stroke-width="5" fill="none"/>
<path d="M337.5 514.5 L341 518.5" stroke="#7f9ae8" stroke-width="1.3" fill="none"/>
<rect x="334.6" y="518.5" width="18.5" height="5.6" rx="2" fill="#cfdad9" stroke="#93a2a3" stroke-width="0.9" transform="rotate(-42 343.8 521.3)"/>
<path d="M346.5 524.5 L355.5 532.3" fill="none" stroke="#b3282e" stroke-width="3.4" stroke-linecap="round" stroke-linejoin="round" />
<path d="M346.5 524.5 L355.5 532.3" fill="none" stroke="#c53c42" stroke-width="1.7" stroke-linecap="round" stroke-linejoin="round" />
<path d="M346.5 524.5 L355.5 532.3" fill="none" stroke="#cf565b" stroke-width="0.8" stroke-linecap="round" stroke-linejoin="round" />
<path d="M557.8 733.5 L566 742.5" fill="none" stroke="#b3282e" stroke-width="3.4" stroke-linecap="round" stroke-linejoin="round" />
<path d="M557.8 733.5 L566 742.5" fill="none" stroke="#c53c42" stroke-width="1.7" stroke-linecap="round" stroke-linejoin="round" />
<path d="M557.8 733.5 L566 742.5" fill="none" stroke="#cf565b" stroke-width="0.8" stroke-linecap="round" stroke-linejoin="round" />
<path d="M569 746 L576 752.5" stroke="#2040a8" stroke-width="5" fill="none"/>
<path d="M569 746 L576 752.5" stroke="#7f9ae8" stroke-width="1.3" fill="none"/>
<rect x="558.2" y="741" width="18.5" height="5.6" rx="2" fill="#cfdad9" stroke="#93a2a3" stroke-width="0.9" transform="rotate(-42 567.5 743.8)"/>
<path d="M585 755 L603 755" stroke="#2040a8" stroke-width="5.5" fill="none"/>
<path d="M585 755 L603 755" stroke="#7f9ae8" stroke-width="1.3" fill="none"/>
<rect x="595.2" y="751.7" width="18.5" height="5.6" rx="2" fill="#cfdad9" stroke="#93a2a3" stroke-width="0.9" transform="rotate(90 604.5 754.5)"/>
<path d="M577 761 L573.5 766" stroke="#2040a8" stroke-width="5" fill="none"/>
<path d="M577 761 L573.5 766" stroke="#7f9ae8" stroke-width="1.3" fill="none"/>
<rect x="563.5" y="764" width="17" height="7" rx="2" fill="#6f7c80" stroke="#55626a" stroke-width="0.9" transform="rotate(25 572 767.5)"/>
<circle cx="579.3" cy="755.5" r="6.8" fill="url(#gball)"/>
<path d="M927.8 726.5 L923 737.5" fill="none" stroke="#b3282e" stroke-width="3.4" stroke-linecap="round" stroke-linejoin="round" />
<path d="M927.8 726.5 L923 737.5" fill="none" stroke="#c53c42" stroke-width="1.7" stroke-linecap="round" stroke-linejoin="round" />
<path d="M927.8 726.5 L923 737.5" fill="none" stroke="#cf565b" stroke-width="0.8" stroke-linecap="round" stroke-linejoin="round" />
<path d="M921.5 741 L917 749" stroke="#2040a8" stroke-width="5" fill="none"/>
<path d="M921.5 741 L917 749" stroke="#7f9ae8" stroke-width="1.3" fill="none"/>
<rect x="913.2" y="736" width="18.5" height="5.6" rx="2" fill="#cfdad9" stroke="#93a2a3" stroke-width="0.9" transform="rotate(25 922.5 738.8)"/>
<path d="M891 754.5 L908 754.5" stroke="#2040a8" stroke-width="5.5" fill="none"/>
<path d="M891 754.5 L908 754.5" stroke="#7f9ae8" stroke-width="1.3" fill="none"/>
<rect x="878.8" y="751.5" width="18.5" height="5.6" rx="2" fill="#cfdad9" stroke="#93a2a3" stroke-width="0.9" transform="rotate(90 888 754.3)"/>
<path d="M917 760 L920 765" stroke="#2040a8" stroke-width="5" fill="none"/>
<path d="M917 760 L920 765" stroke="#7f9ae8" stroke-width="1.3" fill="none"/>
<rect x="911.5" y="763.5" width="18.5" height="5.6" rx="2" fill="#cfdad9" stroke="#93a2a3" stroke-width="0.9" transform="rotate(-30 920.8 766.3)"/>
<path d="M922.5 770 L927.5 777.5" fill="none" stroke="#b3282e" stroke-width="3.4" stroke-linecap="round" stroke-linejoin="round" />
<path d="M922.5 770 L927.5 777.5" fill="none" stroke="#c53c42" stroke-width="1.7" stroke-linecap="round" stroke-linejoin="round" />
<path d="M922.5 770 L927.5 777.5" fill="none" stroke="#cf565b" stroke-width="0.8" stroke-linecap="round" stroke-linejoin="round" />
<circle cx="914.3" cy="754.5" r="6.8" fill="url(#gball)"/>
<path d="M918 143 L922 138" stroke="#2040a8" stroke-width="4.6" fill="none"/>
<path d="M918 143 L922 138" stroke="#7f9ae8" stroke-width="1.3" fill="none"/>
<rect x="913.8" y="134.7" width="18.5" height="5.6" rx="2" fill="#cfdad9" stroke="#93a2a3" stroke-width="0.9" transform="rotate(30 923 137.5)"/>
<path d="M918 154.5 L922 162" stroke="#2040a8" stroke-width="4.6" fill="none"/>
<path d="M918 154.5 L922 162" stroke="#7f9ae8" stroke-width="1.3" fill="none"/>
<rect x="914" y="161" width="18.5" height="5.6" rx="2" fill="#cfdad9" stroke="#93a2a3" stroke-width="0.9" transform="rotate(-30 923.3 163.8)"/>
<path d="M925 167.5 L930.5 176.5" fill="none" stroke="#b3282e" stroke-width="3.4" stroke-linecap="round" stroke-linejoin="round" />
<path d="M925 167.5 L930.5 176.5" fill="none" stroke="#c53c42" stroke-width="1.7" stroke-linecap="round" stroke-linejoin="round" />
<path d="M925 167.5 L930.5 176.5" fill="none" stroke="#cf565b" stroke-width="0.8" stroke-linecap="round" stroke-linejoin="round" />
<circle cx="915" cy="148.8" r="6.8" fill="url(#gball)"/>
<path d="M1074.8 425 L1080 434" fill="none" stroke="#b3282e" stroke-width="3.4" stroke-linecap="round" stroke-linejoin="round" />
<path d="M1074.8 425 L1080 434" fill="none" stroke="#c53c42" stroke-width="1.7" stroke-linecap="round" stroke-linejoin="round" />
<path d="M1074.8 425 L1080 434" fill="none" stroke="#cf565b" stroke-width="0.8" stroke-linecap="round" stroke-linejoin="round" />
<path d="M1082 438 L1087 447" stroke="#2040a8" stroke-width="4.6" fill="none"/>
<path d="M1082 438 L1087 447" stroke="#7f9ae8" stroke-width="1.3" fill="none"/>
<rect x="1071.5" y="433.7" width="18.5" height="5.6" rx="2" fill="#cfdad9" stroke="#93a2a3" stroke-width="0.9" transform="rotate(-28 1080.8 436.5)"/>
<path d="M1096 452.3 L1102 452.3" stroke="#2040a8" stroke-width="5" fill="none"/>
<path d="M1096 452.3 L1102 452.3" stroke="#7f9ae8" stroke-width="1.3" fill="none"/>
<rect x="1094.8" y="449.2" width="18.5" height="5.6" rx="2" fill="#cfdad9" stroke="#93a2a3" stroke-width="0.9" transform="rotate(90 1104 452)"/>
<path d="M1087 458 L1083 465" stroke="#2040a8" stroke-width="4.6" fill="none"/>
<path d="M1087 458 L1083 465" stroke="#7f9ae8" stroke-width="1.3" fill="none"/>
<rect x="1071.8" y="463.7" width="18.5" height="5.6" rx="2" fill="#cfdad9" stroke="#93a2a3" stroke-width="0.9" transform="rotate(28 1081 466.5)"/>
<path d="M1079.5 470 L1075 477.5" fill="none" stroke="#b3282e" stroke-width="3.4" stroke-linecap="round" stroke-linejoin="round" />
<path d="M1079.5 470 L1075 477.5" fill="none" stroke="#c53c42" stroke-width="1.7" stroke-linecap="round" stroke-linejoin="round" />
<path d="M1079.5 470 L1075 477.5" fill="none" stroke="#cf565b" stroke-width="0.8" stroke-linecap="round" stroke-linejoin="round" />
<circle cx="1090" cy="452.6" r="6.8" fill="url(#gball)"/>
</g>
<g id="labels" opacity="0.995">
<text x="95.5" y="347.5" text-anchor="middle" font-size="26.6">Saddle</text>
<text x="95.5" y="376.8" text-anchor="middle" font-size="26.6">Slide</text>
<text x="447" y="275" text-anchor="middle" font-size="26.6">Leaf</text>
<text x="447" y="304.5" text-anchor="middle" font-size="26.6">Climbing</text>
<text x="447" y="333.3" text-anchor="middle" font-size="26.6">Wall</text>
<text x="634" y="177.8" text-anchor="middle" font-size="26.6">Combination</text>
<text x="634" y="207.5" text-anchor="middle" font-size="26.6">Manhole</text>
<text x="634" y="238.2" text-anchor="middle" font-size="26.6">Rope Climber</text>
<text x="859" y="45.5" text-anchor="middle" font-size="26.6">Rope</text>
<text x="859" y="74.7" text-anchor="middle" font-size="26.6">Climber</text>
<text x="859" y="104" text-anchor="middle" font-size="26.6">Attachment</text>
<text x="825.3" y="195.3" text-anchor="middle" font-size="26.6">Overhead</text>
<text x="825.3" y="225" text-anchor="middle" font-size="26.6">Rope Climber</text>
<text x="1151.5" y="239.6" text-anchor="middle" font-size="26.6">Overhead Inverted</text>
<text x="1151.5" y="268.9" text-anchor="middle" font-size="26.6">Horizon Climber</text>
<text x="1151.5" y="299.2" text-anchor="middle" font-size="26.6">With Rope</text>
<text x="1151.5" y="327.5" text-anchor="middle" font-size="26.6">Attachment</text>
<text x="1170.5" y="485.5" text-anchor="middle" font-size="26.6">PE Climber</text>
<text x="1170.5" y="515" text-anchor="middle" font-size="26.6">Attachment</text>
<text x="1127" y="620.3" text-anchor="middle" font-size="26.6">Overhead</text>
<text x="1127" y="649.7" text-anchor="middle" font-size="26.6">Horizon</text>
<text x="1127" y="679" text-anchor="middle" font-size="26.6">Climber</text>
<text x="1079.5" y="852.5" text-anchor="middle" font-size="26.6">Vertical</text>
<text x="1079.5" y="881.8" text-anchor="middle" font-size="26.6">Horizon</text>
<text x="1079.5" y="911.1" text-anchor="middle" font-size="26.6">Climber</text>
<text x="762" y="832.4" text-anchor="middle" font-size="26.6">Triple</text>
<text x="762" y="863" text-anchor="middle" font-size="26.6">Wing</text>
<text x="762" y="892.5" text-anchor="middle" font-size="26.6">Climber</text>
<text x="515" y="830.5" text-anchor="middle" font-size="26.6">Vertical</text>
<text x="515" y="860" text-anchor="middle" font-size="26.6">Inverted</text>
<text x="515" y="889.3" text-anchor="middle" font-size="26.6">Horizon</text>
<text x="515" y="918.6" text-anchor="middle" font-size="26.6">Climber</text>
<text x="347.2" y="689" text-anchor="middle" font-size="26.6">Overhead</text>
<text x="347.2" y="718.8" text-anchor="middle" font-size="26.6">Horizon</text>
<text x="347.2" y="749.2" text-anchor="middle" font-size="26.6">Climber</text>
<text x="634" y="631.5" text-anchor="middle" font-size="26.6">Pod</text>
<text x="634" y="661" text-anchor="middle" font-size="26.6">Climber</text>
</g>
</svg></body></html>
